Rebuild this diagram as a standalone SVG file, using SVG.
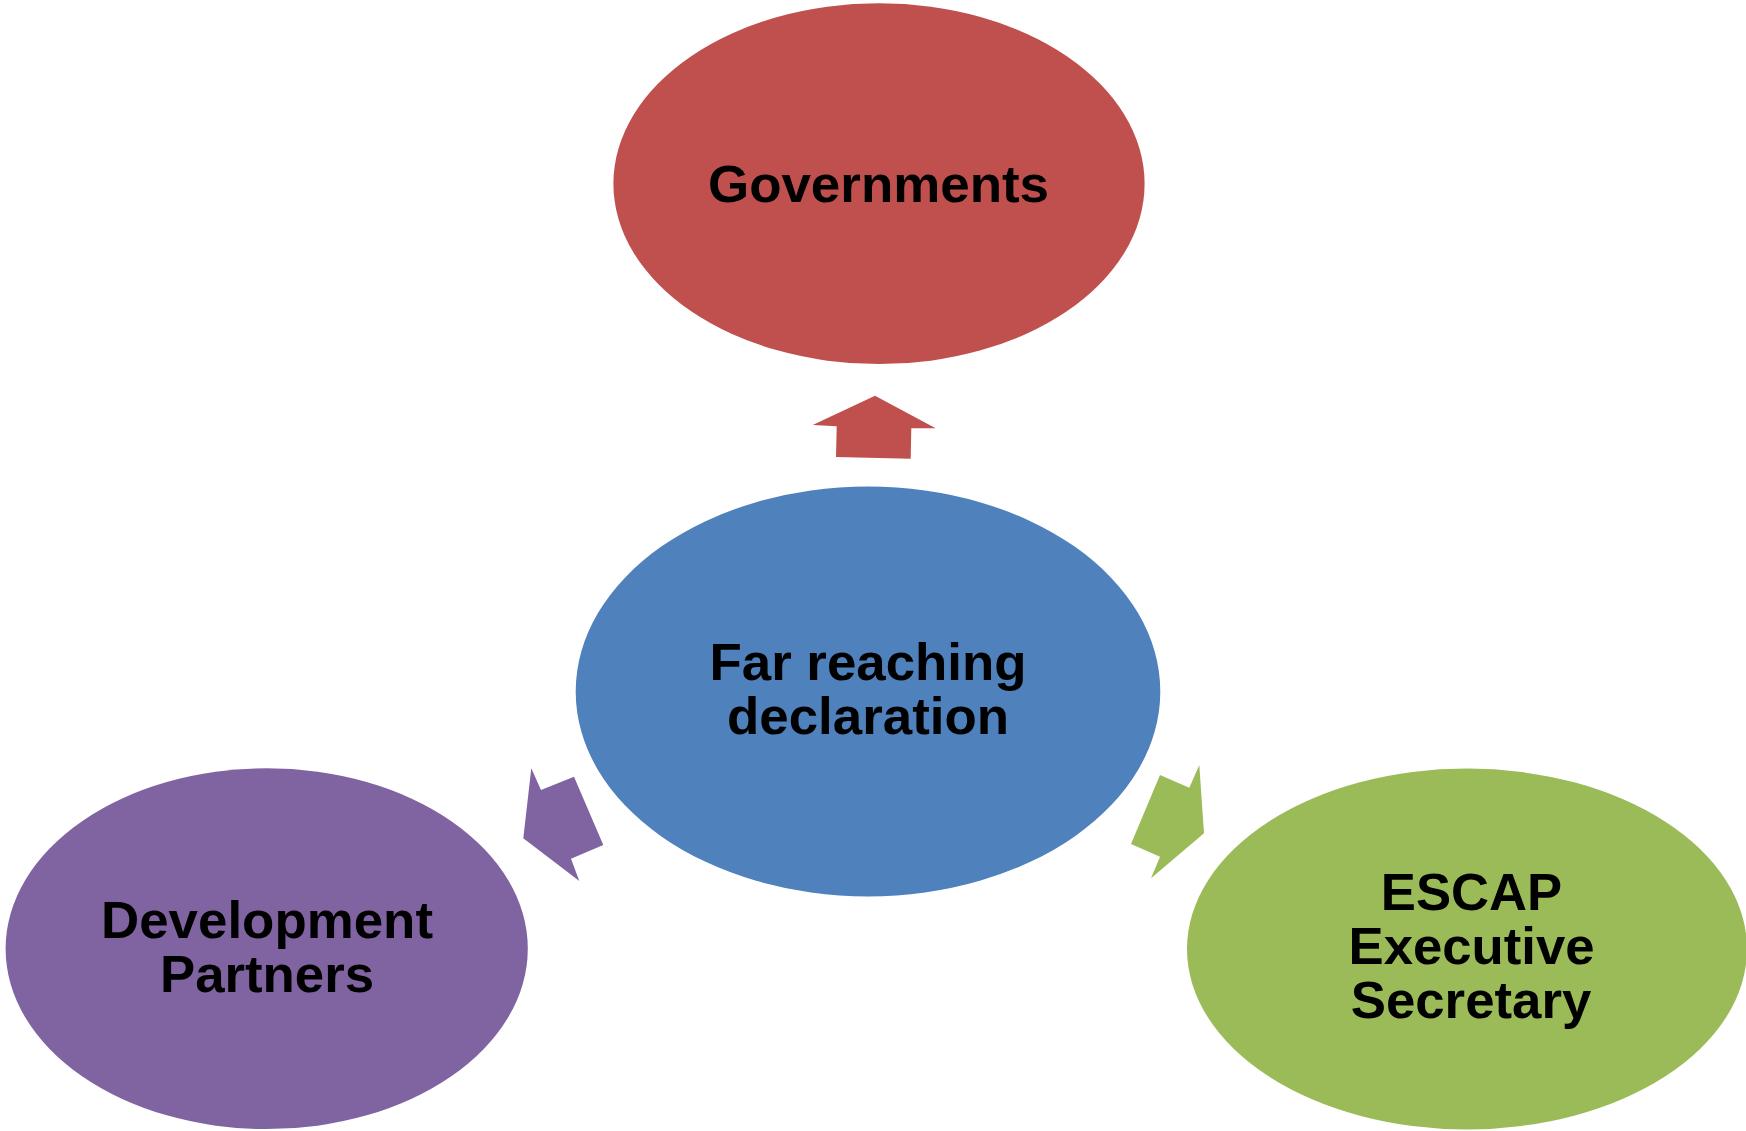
<svg xmlns="http://www.w3.org/2000/svg" width="1746" height="1131" viewBox="0 0 1746 1131">
  <style>
    .lbl { font-family: "Liberation Sans", Arial, sans-serif; font-weight: bold; fill: #000000; text-anchor: middle; }
  </style>
  <rect x="0" y="0" width="1746" height="1131" fill="#FFFFFF"/>
  <g id="connectors">
    <polygon points="875,395.7 935.7,428.3 911.3,428.3 910.7,458.7 836,457 836.7,426.3 812.7,425" fill="#C0504D"/>
    <polygon points="531.3,768.3 541,790 574,776.7 603.3,845 571,858.7 579.3,881 523.3,838.3" fill="#8064A2"/>
    <polygon points="1199.3,765 1204,833.3 1151,878.3 1160,856.7 1131,844 1160,775 1189.3,787.7" fill="#9BBB59"/>
  </g>
  <g id="node-governments">
    <ellipse cx="879" cy="183.7" rx="265.6" ry="180.4" fill="#C0504D"/>
    <text class="lbl" x="878.5" y="201.5" font-size="52" textLength="341" lengthAdjust="spacingAndGlyphs">Governments</text>
  </g>
  <g id="node-declaration">
    <ellipse cx="868" cy="691.5" rx="292.3" ry="204.9" fill="#4F81BD"/>
    <text class="lbl" x="868" y="680" font-size="52" textLength="317" lengthAdjust="spacingAndGlyphs">Far reaching</text>
    <text class="lbl" x="868" y="734" font-size="52" textLength="282" lengthAdjust="spacingAndGlyphs">declaration</text>
  </g>
  <g id="node-development">
    <ellipse cx="266.7" cy="948.7" rx="261.1" ry="180.4" fill="#8064A2"/>
    <text class="lbl" x="267" y="938" font-size="52" textLength="332" lengthAdjust="spacingAndGlyphs">Development</text>
    <text class="lbl" x="267" y="991.5" font-size="52" textLength="214" lengthAdjust="spacingAndGlyphs">Partners</text>
  </g>
  <g id="node-escap">
    <ellipse cx="1467" cy="949" rx="280" ry="180.4" fill="#9BBB59"/>
    <text class="lbl" x="1471.5" y="909.5" font-size="52" textLength="181.5" lengthAdjust="spacingAndGlyphs">ESCAP</text>
    <text class="lbl" x="1471.5" y="963.5" font-size="52" textLength="246" lengthAdjust="spacingAndGlyphs">Executive</text>
    <text class="lbl" x="1471" y="1018" font-size="52" textLength="240.5" lengthAdjust="spacingAndGlyphs">Secretary</text>
  </g>
</svg>
